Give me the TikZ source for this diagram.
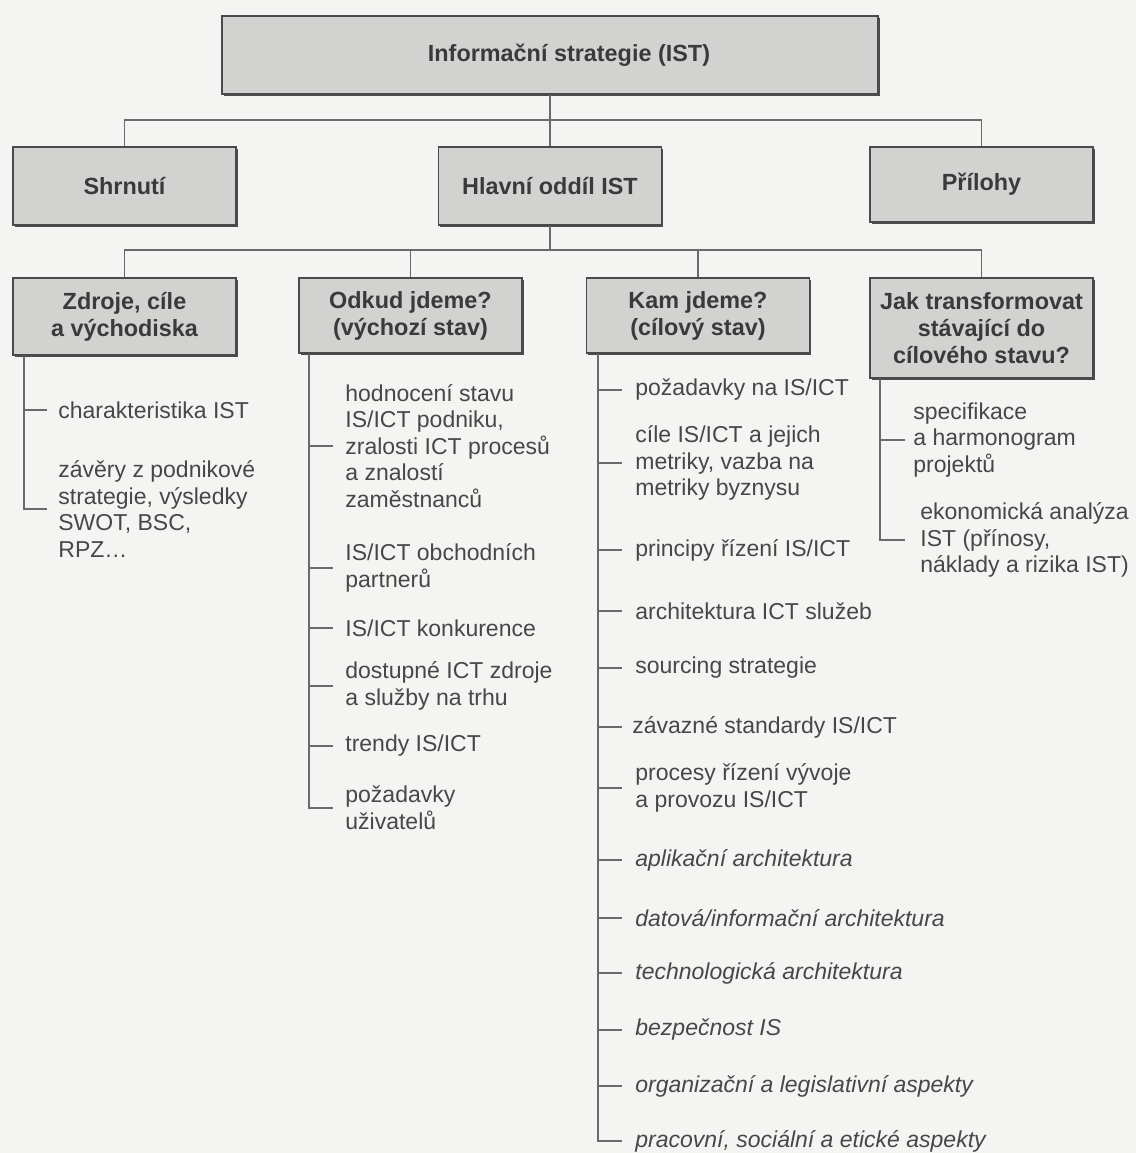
\documentclass[tikz,border=0pt]{standalone}
\usepackage{fontspec}
\setmainfont{Liberation Sans}
\usetikzlibrary{shadows}
\definecolor{pagebg}{HTML}{F4F4F2}
\definecolor{boxfill}{HTML}{D2D2D0}
\definecolor{boxline}{HTML}{4A4A4A}
\definecolor{ink}{HTML}{3A3A3A}
\definecolor{itemink}{HTML}{474747}
\definecolor{wire}{HTML}{6A6A6A}
\begin{document}
\begin{tikzpicture}[x=0.5pt,y=-0.5pt,
  box/.style={draw=boxline, line width=0.9pt, fill=boxfill, text=ink,
    font=\fontsize{11.7}{13.5}\selectfont\bfseries, align=center,
    minimum width=111.5pt, inner sep=2pt,
    drop shadow={shadow xshift=0.9pt, shadow yshift=-0.9pt, fill=black!70, opacity=1}},
  item/.style={anchor=west, align=left, inner sep=0pt, text=itemink,
    font=\fontsize{11.5}{13.3}\selectfont},
  itemit/.style={item, font=\fontsize{11.5}{13.3}\selectfont\itshape},
  wireline/.style={draw=wire, line width=0.9pt}
]
\fill[pagebg] (0,0) rectangle (1136,1153);
\useasboundingbox (0,0) rectangle (1136,1153);

% --- top level ---
\node[box, minimum width=328pt, minimum height=39pt] (top) at (550,55) {\hspace*{19pt}Informační strategie (IST)};

% --- second level ---
\node[box, minimum height=39pt] (shr) at (124.5,186) {Shrnutí};
\node[box, minimum height=39pt] (hl)  at (550,186)   {Hlavní oddíl IST};
\node[box, minimum height=37.5pt] (pri) at (981.5,184.5) {Přílohy};

\coordinate (b1) at (550,120);
\draw[wireline] (top.south) -- (hl.north);
\draw[wireline] (shr.north) |- (b1) -| (pri.north);

% --- third level ---
\node[box, minimum height=38.5pt] (zd)  at (124.5,316.5) {Zdroje, cíle\\a východiska};
\node[box, minimum height=37.5pt] (od)  at (410.5,315.5) {Odkud jdeme?\\(výchozí stav)};
\node[box, minimum height=37.5pt] (kam) at (698,315.5)   {Kam jdeme?\\(cílový stav)};
\node[box, minimum height=50pt]   (jak) at (981.5,328)   {Jak transformovat\\stávající do\\cílového stavu?};

\coordinate (b2) at (550,250);
\draw[wireline] (hl.south) -- (b2);
\draw[wireline] (zd.north) |- (b2) -| (jak.north);
\draw[wireline] (od.north) -- (od.north |- b2);
\draw[wireline] (kam.north) -- (kam.north |- b2);

% --- Zdroje, cíle a východiska ---
\node[item] (z1) at (58,410) {charakteristika IST};
\node[item] (z2) at (58,509) {závěry z podnikové\\strategie, výsledky\\SWOT, BSC,\\RPZ\ldots};
\draw[wireline] ([xshift=6pt]zd.south west) |- ([xshift=-5.5pt]z2.west);
\draw[wireline] (25,0 |- z1.west) -- ([xshift=-5.5pt]z1.west);

% --- Odkud jdeme? ---
\node[item] (o1) at (345,446) {hodnocení stavu\\IS/ICT podniku,\\zralosti ICT procesů\\a znalostí\\zaměstnanců};
\node[item] (o2) at (345,568) {IS/ICT obchodních\\partnerů};
\node[item] (o3) at (345,628) {IS/ICT konkurence};
\node[item] (o4) at (345,686) {dostupné ICT zdroje\\a služby na trhu};
\node[item] (o5) at (345,746) {trendy IS/ICT};
\node[item] (o6) at (345,808) {požadavky\\uživatelů};
\draw[wireline] ([xshift=5.5pt]od.south west) |- ([xshift=-6pt]o6.west);
\foreach \n in {o1,o2,o3,o4,o5}
  \draw[wireline] (310,0 |- \n.west) -- ([xshift=-6pt]\n.west);

% --- Kam jdeme? ---
\node[item] (k1)  at (635,390)  {požadavky na IS/ICT};
\node[item] (k2)  at (635,463)  {cíle IS/ICT a jejich\\metriky, vazba na\\metriky byznysu};
\node[item] (k3)  at (635,550)  {principy řízení IS/ICT};
\node[item] (k4)  at (635,611)  {architektura ICT služeb};
\node[item] (k5)  at (635,668)  {sourcing strategie};
\node[item] (k6)  at (632,727)  {závazné standardy IS/ICT};
\node[item] (k7)  at (635,788)  {procesy řízení vývoje\\a provozu IS/ICT};
\node[itemit] (k8)  at (635,860)  {aplikační architektura};
\node[itemit] (k9)  at (635,918)  {datová/informační architektura};
\node[itemit] (k10) at (635,973)  {technologická architektura};
\node[itemit] (k11) at (635,1030) {bezpečnost IS};
\node[itemit] (k12) at (635,1086) {organizační a legislativní aspekty};
\node[itemit] (k13) at (635,1141) {pracovní, sociální a etické aspekty};
\draw[wireline] ([xshift=6pt]kam.south west) |- ([xshift=-6.5pt]k13.west);
\foreach \n in {k1,k2,k3,k4,k5,k7,k8,k9,k10,k11,k12}
  \draw[wireline] (598,0 |- \n.west) -- ([xshift=-6.5pt]\n.west);
\draw[wireline] (598,0 |- k6.west) -- ([xshift=-5pt]k6.west);

% --- Jak transformovat ---
\node[item] (j1) at (913,440) {specifikace\\a harmonogram\\projektů};
\node[item] (j2) at (920,540) {ekonomická analýza\\IST (přínosy,\\náklady a rizika IST)};
\draw[wireline] ([xshift=5.5pt]jak.south west) |- ([xshift=-7.5pt]j2.west);
\draw[wireline] (881,0 |- j1.west) -- ([xshift=-4pt]j1.west);
\end{tikzpicture}
\end{document}
